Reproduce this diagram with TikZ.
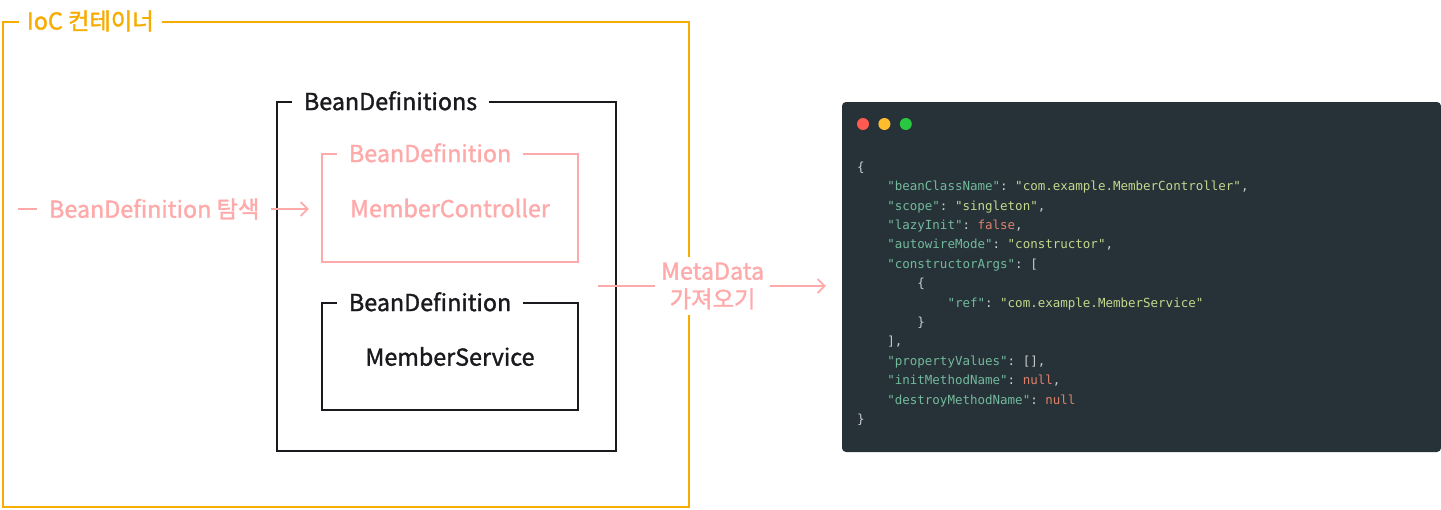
\documentclass[tikz,border=0pt]{standalone}
\usepackage{fontspec}
\setmainfont{Noto Sans CJK KR}[FakeBold=1.4]
\setmonofont{DejaVu Sans Mono}
\usetikzlibrary{arrows.meta,positioning,calc}
\definecolor{iocAmber}{RGB}{247,172,0}
\definecolor{beanPink}{RGB}{255,170,170}
\definecolor{inkBlack}{RGB}{26,26,30}
\definecolor{codeBg}{RGB}{38,50,56}
\definecolor{codeKey}{RGB}{115,185,155}
\definecolor{codeStr}{RGB}{195,216,140}
\definecolor{codeLit}{RGB}{222,130,106}
\definecolor{codePunct}{RGB}{200,205,210}
\definecolor{dotRed}{RGB}{255,90,82}
\definecolor{dotAmber}{RGB}{255,189,46}
\definecolor{dotGreen}{RGB}{40,200,64}
\newcommand\lblsize{\fontsize{23.3pt}{28pt}\selectfont}
\newcommand\ind{\hspace*{2.408em}}
\newcommand\ckey[1]{\textcolor{codeKey}{"#1"}}
\newcommand\cstr[1]{\textcolor{codeStr}{"#1"}}
\newcommand\clit[1]{\textcolor{codeLit}{#1}}

\begin{document}
\begin{tikzpicture}[x=1pt,y=-1pt,font=\lblsize,
    group/.style={draw,line width=2.4pt,inner sep=0pt},
    grouptitle/.style={anchor=west,fill=white,inner xsep=12pt,inner ysep=2pt},
    ar/.style={-{Straight Barb[length=7pt,width=14pt]},beanPink,line width=1.8pt},
    dot/.style={circle,minimum size=12pt,inner sep=0pt}]
  \useasboundingbox (0,0) rectangle (1441,509);

  % container and bean definitions
  \node[group,draw=iocAmber,minimum width=686pt,minimum height=485pt] (ioc) at (346,264.5) {};
  \node[grouptitle,text=iocAmber,inner xsep=8pt] (iocT) at ([xshift=17pt]ioc.north west) {IoC 컨테이너};

  \node[group,draw=inkBlack,minimum width=339pt,minimum height=349pt] (defs) at (446.5,276.5) {};
  \node[grouptitle,text=inkBlack] (defsT) at ([xshift=16pt]defs.north west) {BeanDefinitions};

  \node[group,draw=beanPink,text=beanPink,minimum width=256pt,minimum height=108pt] (mc) at (450,208) {MemberController};
  \node[grouptitle,text=beanPink] (mcT) at ([xshift=16pt]mc.north west) {BeanDefinition};

  \node[group,draw=inkBlack,text=inkBlack,minimum width=256pt,minimum height=107pt] (ms) at (450,356.5) {MemberService};
  \node[grouptitle,text=inkBlack] (msT) at ([xshift=16pt]ms.north west) {BeanDefinition};

  % code panel
  \node[fill=codeBg,rounded corners=4pt,minimum width=599pt,minimum height=350pt,inner sep=0pt] (panel) at (1141.5,277) {};
  \node[dot,fill=dotRed] (dr) at (863,124) {};
  \node[dot,fill=dotAmber,right=9pt of dr] (da) {};
  \node[dot,fill=dotGreen,right=9pt of da] (dg) {};

  \node[anchor=north west,inner sep=0pt,align=left,text=codePunct,
        font=\ttfamily\fontsize{12.5pt}{19.4pt}\selectfont] (json) at (857,161.5) {%
    \{\\
    \ind\ckey{beanClassName}: \cstr{com.example.MemberController},\\
    \ind\ckey{scope}: \cstr{singleton},\\
    \ind\ckey{lazyInit}: \clit{false},\\
    \ind\ckey{autowireMode}: \cstr{constructor},\\
    \ind\ckey{constructorArgs}: [\\
    \ind\ind\{\\
    \ind\ind\ind\ckey{ref}: \cstr{com.example.MemberService}\\
    \ind\ind\}\\
    \ind],\\
    \ind\ckey{propertyValues}: [],\\
    \ind\ckey{initMethodName}: \clit{null},\\
    \ind\ckey{destroyMethodName}: \clit{null}\\
    \}};

  % connectors
  \coordinate (scanS) at (18,209);
  \coordinate (metaS) at (598,286);
  \draw[ar,shorten >=12pt] (scanS) -- node[pos=0.45,fill=white,text=beanPink,inner xsep=12pt]
    {BeanDefinition 탐색} (scanS -| mc.west);
  \draw[ar,shorten >=16pt] (metaS) -- node[pos=0.47,fill=white,text=beanPink,align=center,
    inner xsep=6pt,inner ysep=6pt] {MetaData\\가져오기} (metaS -| panel.west);
\end{tikzpicture}
\end{document}
